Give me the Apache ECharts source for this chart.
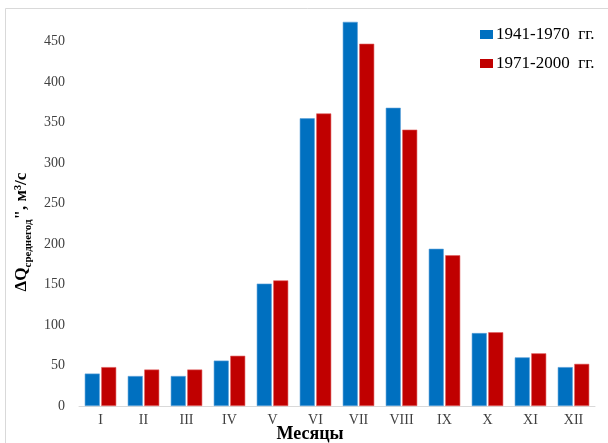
<!DOCTYPE html>
<html>
<head>
<meta charset="utf-8">
<script src="https://cdn.jsdelivr.net/npm/echarts@6/dist/echarts.min.js"></script>
<style>html,body{margin:0;padding:0;background:#fff}#c{width:608px;height:443px}</style>
</head>
<body>
<div id="c"></div>
<script>
var months = ['I','II','III','IV','V','VI','VII','VIII','IX','X','XI','XII'];
var series1Name = '1941-1970  гг.';
var series2Name = '1971-2000  гг.';
var values1941 = [40, 37, 37, 56, 151, 355, 474, 368, 194, 90, 60, 48];
var values1971 = [48, 45, 45, 62, 155, 361, 447, 341, 186, 91, 65, 52];
var yTicks = [0, 50, 100, 150, 200, 250, 300, 350, 400, 450];

var serif = '"Liberation Serif","DejaVu Serif",serif';
var chart = echarts.init(document.getElementById('c'));
chart.setOption({
  animation: false,
  backgroundColor: '#fff',
  grid: {left: 79, right: 13, top: 17, bottom: 37, containLabel: false},
  legend: {
    orient: 'vertical', left: 475, top: 21, itemWidth: 13, itemHeight: 9, itemGap: 12,
    textStyle: {fontFamily: serif, fontSize: 17, color: '#000', padding: [0, 0, 0, -2]},
    icon: 'rect',
    itemStyle: {borderWidth: 0},
    data: [series1Name, series2Name]
  },
  xAxis: {
    type: 'category', data: months,
    axisLine: {lineStyle: {color: '#d9d9d9', width: 1}},
    axisTick: {show: false},
    axisLabel: {fontFamily: serif, fontSize: 14, color: '#404040', margin: 7}
  },
  yAxis: {
    type: 'value', min: 0, max: 480, interval: 50,
    splitLine: {show: false},
    axisLine: {show: false}, axisTick: {show: false},
    axisLabel: {
      fontFamily: serif, fontSize: 14, color: '#404040', margin: 14,
      formatter: function (v) { return yTicks.indexOf(v) >= 0 ? String(v) : ''; }
    }
  },
  series: [
    {name: series1Name, type: 'bar', data: values1941, barWidth: 15, barGap: '10%',
     itemStyle: {color: '#0070C0', borderColor: '#5aa0d8', borderWidth: 0.6}},
    {name: series2Name, type: 'bar', data: values1971, barWidth: 15,
     itemStyle: {color: '#C00000', borderColor: '#e06060', borderWidth: 0.6}}
  ],
  graphic: [
    {type: 'rect', shape: {x: 5.5, y: 8.5, width: 700, height: 600}, style: {fill: 'none', stroke: '#d9d9d9', lineWidth: 1}, z: -1},
    {type: 'text', x: 310, y: 434, style: {text: 'Месяцы', font: 'bold 18px ' + serif, fill: '#000', textAlign: 'center', textVerticalAlign: 'middle'}},
    {type: 'text', x: 22, y: 232, rotation: Math.PI / 2,
     style: {
       text: '{a|ΔQ}{s|среднегод}{a|", м³/с}',
       textAlign: 'center', textVerticalAlign: 'middle', fill: '#000',
       rich: {
         a: {font: 'bold 17px ' + serif, fill: '#000', lineHeight: 24, verticalAlign: 'middle'},
         s: {font: 'bold 11px ' + serif, fill: '#000', lineHeight: 24, verticalAlign: 'bottom'}
       }
     }}
  ]
});
</script>
</body>
</html>
